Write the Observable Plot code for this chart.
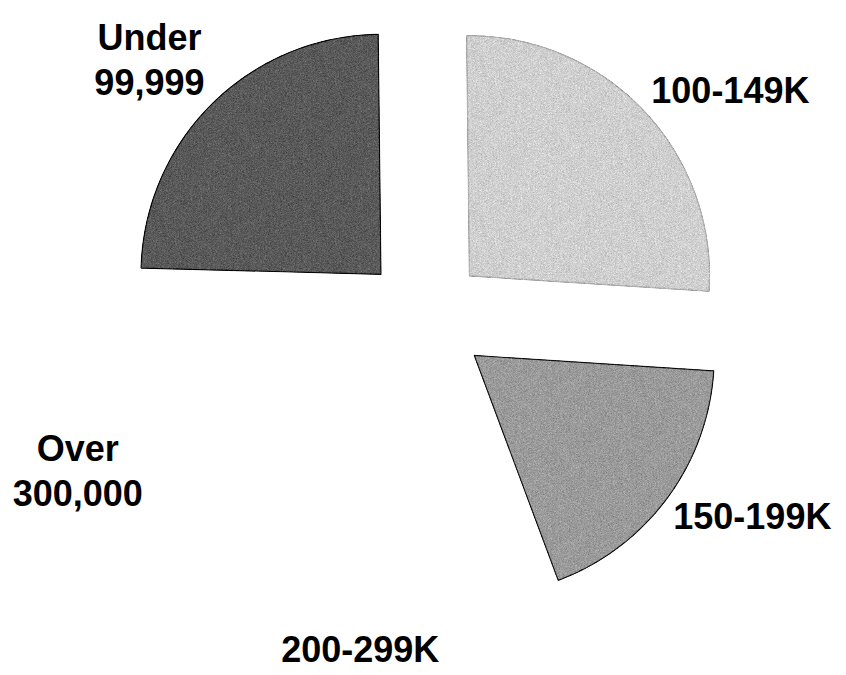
<!DOCTYPE html>
<html><head><meta charset="utf-8">
<script src="https://cdn.jsdelivr.net/npm/d3@7"></script>
<script src="https://cdn.jsdelivr.net/npm/@observablehq/plot@0.6"></script>
<style>body{margin:0;background:#fff} svg{display:block;background:#fff}</style>
</head><body><div id="chart"></div>
<script>
// ---- data ----
const categories = ["Under\n99,999", "100-149K", "150-199K", "200-299K", "Over\n300,000"];
const shares = [24.4, 26.2, 18.3, 17.7, 13.4];
const fills = ["#5a5a5a", "#d0d0d0", "#9b9b9b", "#ffffff", "#ffffff"];
const outlines = ["#000000", "#b0b0b0", "#111111", "none", "none"];

// ---- layout ----
const W = 846, H = 675, R = 240, cx = 424, cy = 318;
const startDeg = 271.5;
const explode = 62 / R;
const ringX = 302 / R, ringY = 326 / R;   // elliptical ring the labels sit on
const FONT = "'Liberation Sans', Arial, Helvetica, sans-serif";
const FS = 36, LH = 1.25, CAP = 26;

const ctx = document.createElement("canvas").getContext("2d");
ctx.font = `bold ${FS}px ${FONT}`;

const a0 = startDeg * Math.PI / 180;
const arcs = d3.pie().sort(null).value(d => d).startAngle(a0).endAngle(a0 + 2 * Math.PI)(shares);

const pts = [];
const labels = [];
arcs.forEach((a, i) => {
  const mid = (a.startAngle + a.endAngle) / 2;
  const ox = explode * Math.sin(mid), oy = explode * Math.cos(mid);
  pts.push({slice: i, x: ox, y: oy, fill: fills[i], stroke: outlines[i]});
  const n = Math.max(2, Math.ceil((a.endAngle - a.startAngle) * 180 / Math.PI));
  for (let k = 0; k <= n; k++) {
    const t = a.startAngle + (a.endAngle - a.startAngle) * k / n;
    pts.push({slice: i, x: ox + Math.sin(t), y: oy + Math.cos(t), fill: fills[i], stroke: outlines[i]});
  }
  pts.push({slice: i, x: ox, y: oy, fill: fills[i], stroke: outlines[i]});
  // label: nearest corner (or edge middle, near top/bottom) of the text box sits on the ring along the mid angle
  const lines = categories[i].split("\n");
  const w = d3.max(lines, s => ctx.measureText(s).width) / R;
  const h = (CAP + FS * LH * (lines.length - 1)) / R;
  const s = Math.sin(mid), c = Math.cos(mid);
  const D = ringX * ringY / Math.hypot(ringY * s, ringX * c);
  const ax = D * s, ay = D * c;
  labels.push({
    text: categories[i],
    x: ax + (Math.abs(s) < 0.25 ? 0 : Math.sign(s)) * w / 2,
    y: ay + Math.sign(c) * h / 2
  });
});

const outlined = pts.filter(d => d.stroke !== "none");
const plain = pts.filter(d => d.stroke === "none");

const chart = Plot.plot({
  width: W, height: H,
  margin: 0,
  x: {domain: [-cx / R, (W - cx) / R], axis: null},
  y: {domain: [-(H - cy) / R, cy / R], axis: null},
  style: {background: "#fff"},
  marks: [
    Plot.line(plain, {x: "x", y: "y", z: "slice", fill: "fill", stroke: null}),
    Plot.line(outlined, {x: "x", y: "y", z: "slice", fill: "fill", stroke: "stroke", strokeWidth: 1.2, strokeLinejoin: "miter"}),
    Plot.text(labels, {x: "x", y: "y", text: "text", fontSize: FS, fontWeight: "bold", fontFamily: FONT,
      lineHeight: LH, textAnchor: "middle", lineAnchor: "middle", fill: "#000", dy: -2})
  ]
});

// grainy, scanned-print texture on the shaded slices
const svg = d3.select(chart);
const defs = svg.insert("defs", ":first-child");
const f = defs.append("filter").attr("id", "grain").attr("color-interpolation-filters", "sRGB")
  .attr("x", "-5%").attr("y", "-5%").attr("width", "110%").attr("height", "110%");
f.append("feTurbulence").attr("type", "fractalNoise").attr("baseFrequency", 1.6).attr("numOctaves", 2).attr("seed", 7).attr("result", "noise");
f.append("feColorMatrix").attr("in", "noise").attr("type", "matrix")
  .attr("values", "0.33 0.33 0.33 0 0  0.33 0.33 0.33 0 0  0.33 0.33 0.33 0 0  0 0 0 0 1").attr("result", "gray");
f.append("feComposite").attr("in", "SourceGraphic").attr("in2", "gray").attr("operator", "arithmetic")
  .attr("k1", 0).attr("k2", 1).attr("k3", 0.6).attr("k4", -0.3).attr("result", "mix");
f.append("feComposite").attr("in", "mix").attr("in2", "SourceAlpha").attr("operator", "in");
svg.selectAll("g[aria-label='line']").filter((d, i) => i === 1).selectAll("path").attr("filter", "url(#grain)");

document.getElementById("chart").append(chart);
</script>
</body></html>
